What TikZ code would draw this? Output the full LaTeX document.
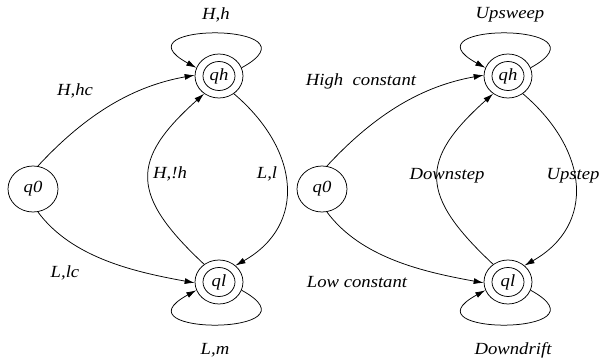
\documentclass[tikz,border=0pt]{standalone}
\usepackage{fontspec}
\setmainfont{Liberation Serif}
\usepackage{graphicx}
\usetikzlibrary{shapes.geometric,arrows.meta}
% italic text, slightly widened
\newcommand{\wtxt}[1]{\scalebox{1.1}[1]{\itshape #1}}

\begin{document}
\begin{tikzpicture}[x=1pt,y=-1pt,
  state/.style={ellipse, draw, line width=0.75pt, inner sep=0pt,
    minimum width=50pt, minimum height=46pt, font=\fontsize{17}{20}\selectfont},
  outerring/.style={ellipse, draw, line width=0.75pt, inner sep=0pt,
    minimum width=48pt, minimum height=44pt},
  innerring/.style={ellipse, draw, line width=0.75pt, inner sep=0pt,
    minimum width=32pt, minimum height=29pt, font=\fontsize{17}{20}\selectfont},
  lbl/.style={inner sep=0pt, font=\fontsize{17}{20}\selectfont},
  edge/.style={line width=0.75pt, -{Latex[length=10pt,width=6pt]}}
]
\useasboundingbox (0,0) rectangle (603,362);

% ---------- left automaton ----------
\node[state] (q0L) at (33,189) {\wtxt{q0}};
\node[outerring] (qhL) at (219,76) {};
\node[innerring] (qhLi) at (219,76) {\wtxt{qh}};
\node[outerring] (qlL) at (219,282) {};
\node[innerring] (qlLi) at (219,282) {\wtxt{ql}};

\draw[edge] (q0L.78) .. controls (87,113) and (134,86) .. (qhL.178);
\draw[edge] (q0L.-78) .. controls (72,258) and (135,272) .. (qlL.182);
\draw[edge] (qlL.130) .. controls (130,195) and (130,160) .. (qhL.230);
\draw[edge] (qhL.-50) .. controls (300,150) and (307,225) .. (qlL.45);
\draw[edge] (qhL.20) .. controls (325,22) and (112,22) .. (qhL.160);
\draw[edge] (qlL.-20) .. controls (325,336) and (112,336) .. (qlL.-160);

\node[lbl] (lhh) at (216,15) {\wtxt{H,h}};
\node[lbl] (lhhc) at (75,91) {\wtxt{H,hc}};
\node[lbl] (lhnh) at (170,174) {\wtxt{H,!h}};
\node[lbl] (lll) at (267,174) {\wtxt{L,l}};
\node[lbl] (llc) at (65,273) {\wtxt{L,lc}};
\node[lbl] (llm) at (215,350) {\wtxt{L,m}};

% ---------- right automaton ----------
\node[state] (q0R) at (322,189) {\wtxt{q0}};
\node[outerring] (qhR) at (508,76) {};
\node[innerring] (qhRi) at (508,76) {\wtxt{qh}};
\node[outerring] (qlR) at (508,282) {};
\node[innerring] (qlRi) at (508,282) {\wtxt{ql}};

\draw[edge] (q0R.78) .. controls (376,113) and (423,86) .. (qhR.178);
\draw[edge] (q0R.-78) .. controls (361,258) and (424,272) .. (qlR.182);
\draw[edge] (qlR.130) .. controls (419,195) and (419,160) .. (qhR.230);
\draw[edge] (qhR.-50) .. controls (589,150) and (596,225) .. (qlR.45);
\draw[edge] (qhR.20) .. controls (614,22) and (401,22) .. (qhR.160);
\draw[edge] (qlR.-20) .. controls (614,336) and (401,336) .. (qlR.-160);

\node[lbl] (rups) at (510,15) {\wtxt{Upsweep}};
\node[lbl] (rhigh) at (361,81) {\wtxt{High\ \ constant}};
\node[lbl] (rdown) at (447,176) {\wtxt{Downstep}};
\node[lbl] (rup) at (573,176) {\wtxt{Upstep}};
\node[lbl] (rlow) at (357,282) {\wtxt{Low constant}};
\node[lbl] (rdrift) at (513,350) {\wtxt{Downdrift}};
\end{tikzpicture}
\end{document}
